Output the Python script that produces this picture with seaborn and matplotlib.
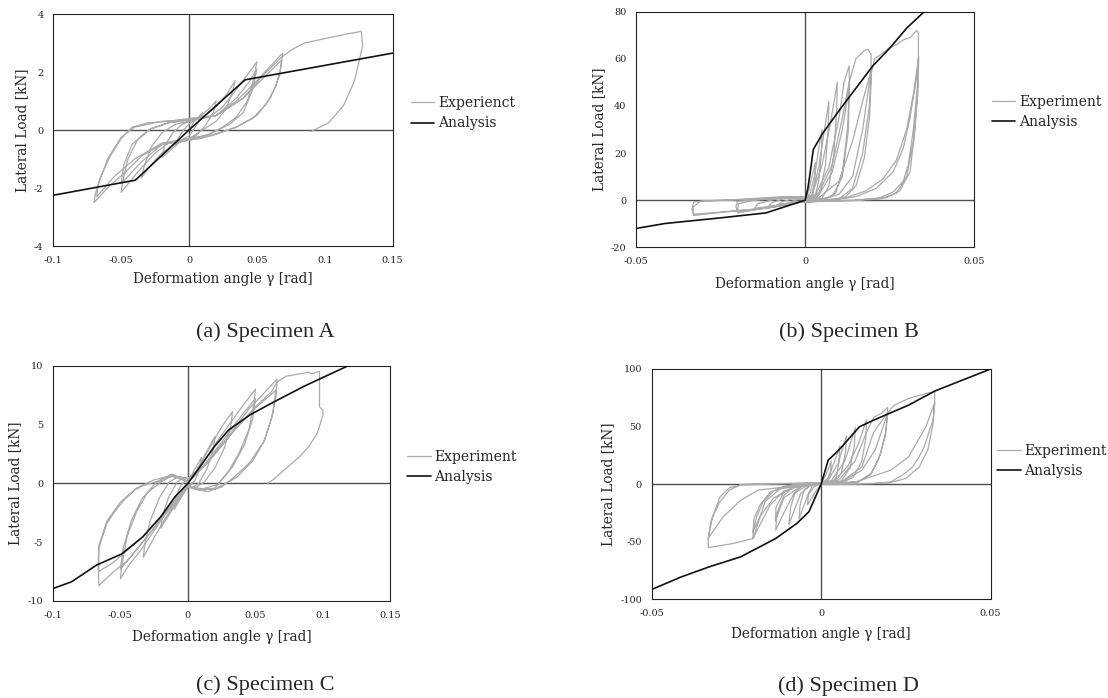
import matplotlib
matplotlib.use("Agg")
import seaborn as sns
import matplotlib.pyplot as plt

sns.set_theme(style="white")
plt.rcParams["font.family"] = ["DejaVu Serif"]
plt.rcParams["axes.unicode_minus"] = False

# ---------------- Specimen A ----------------
a_exp_gamma = [0, 0.004, 0.01, 0.008, 0.004, 0, -0.004, -0.01, -0.008, -0.004, 0,
               0.008, 0.015, 0.02, 0.018, 0.012, 0.005, 0, -0.008, -0.015, -0.02, -0.018, -0.012, -0.005, 0,
               0.01, 0.02, 0.028, 0.034, 0.032, 0.027, 0.02, 0.01, 0, -0.01, -0.02, -0.028, -0.035, -0.033, -0.028, -0.02, -0.01, 0,
               0.015, 0.025, 0.035, 0.043, 0.05, 0.048, 0.043, 0.035, 0.025, 0.012, 0, -0.015, -0.025, -0.035, -0.043, -0.05, -0.049, -0.045, -0.038, -0.028, -0.015, 0,
               0.02, 0.035, 0.045, 0.05, 0.047, 0.04, 0.03, 0.015, 0, -0.02, -0.035, -0.045, -0.05, -0.048, -0.042, -0.03, -0.015, 0,
               0.02, 0.035, 0.048, 0.058, 0.069, 0.068, 0.064, 0.057, 0.047, 0.035, 0.02, 0.008, 0, -0.02, -0.035, -0.048, -0.058, -0.07, -0.069, -0.065, -0.058, -0.05, -0.042, -0.03, -0.015, 0,
               0.02, 0.04, 0.055, 0.068, 0.067, 0.06, 0.05, 0.035, 0.015, 0, -0.02, -0.04, -0.055, -0.068, -0.067, -0.06, -0.05, -0.04, -0.02, 0,
               0.02, 0.04, 0.055, 0.068, 0.075, 0.085, 0.1, 0.115, 0.127, 0.128, 0.122, 0.114, 0.103, 0.09]
a_exp_load = [0, 0.3, 0.6, 0.35, 0.05, -0.2, -0.3, -0.55, -0.3, 0.0, 0.2,
              0.45, 0.75, 1.0, 0.6, 0.15, -0.2, -0.3, -0.45, -0.75, -0.95, -0.55, -0.1, 0.2, 0.3,
              0.45, 0.8, 1.25, 1.7, 1.3, 0.7, 0.3, 0.0, -0.3, -0.45, -0.8, -1.2, -1.65, -1.25, -0.6, -0.1, 0.2, 0.3,
              0.45, 0.8, 1.4, 1.9, 2.35, 1.8, 1.0, 0.45, 0.1, -0.2, -0.35, -0.45, -0.8, -1.3, -1.75, -2.15, -1.8, -1.0, -0.35, 0.05, 0.25, 0.35,
              0.5, 1.1, 1.7, 2.1, 1.4, 0.6, 0.2, -0.15, -0.3, -0.5, -1.1, -1.6, -1.85, -1.2, -0.5, 0.0, 0.25, 0.35,
              0.5, 1.0, 1.6, 2.1, 2.65, 2.2, 1.5, 0.9, 0.4, 0.1, -0.15, -0.3, -0.35, -0.5, -0.9, -1.5, -1.9, -2.5, -2.2, -1.6, -0.9, -0.3, 0.1, 0.25, 0.3, 0.4,
              0.5, 1.1, 1.8, 2.4, 1.9, 1.1, 0.5, 0.1, -0.2, -0.3, -0.45, -1.0, -1.6, -2.3, -1.9, -1.0, -0.25, 0.1, 0.3, 0.35,
              0.5, 1.1, 1.9, 2.5, 2.75, 3.0, 3.15, 3.3, 3.4, 2.9, 1.7, 0.85, 0.25, -0.05]
a_ana_gamma = [-0.1, -0.0395, 0, 0.0413, 0.15]
a_ana_load = [-2.25, -1.73, 0, 1.73, 2.65]

# ---------------- Specimen B ----------------
b_exp_gamma = [0, 0.001, 0.002, 0.003, 0.0028, 0.002, 0.001, 0, -0.003, -0.005, -0.004, -0.002, 0,
               0.0015, 0.003, 0.004, 0.005, 0.0048, 0.004, 0.003, 0.002, 0, -0.005, -0.008, -0.007, -0.004, 0,
               0.002, 0.004, 0.0055, 0.007, 0.0068, 0.006, 0.0045, 0.003, 0, -0.006, -0.011, -0.01, -0.006, 0,
               0.002, 0.005, 0.0075, 0.0095, 0.0093, 0.0085, 0.007, 0.005, 0.002, 0, -0.008, -0.015, -0.014, -0.008, 0,
               0.003, 0.007, 0.01, 0.0115, 0.013, 0.0131, 0.0125, 0.011, 0.009, 0.006, 0, -0.01, -0.02, -0.0205, -0.02, -0.012, -0.005, 0,
               0.004, 0.008, 0.011, 0.013, 0.0128, 0.011, 0.008, 0.004, 0, -0.01, -0.02, -0.0198, -0.015, -0.005, 0,
               0.004, 0.008, 0.011, 0.013, 0.015, 0.0175, 0.0185, 0.0195, 0.0195, 0.019, 0.0175, 0.015, 0.012, 0.008, 0,
               -0.01, -0.02, -0.027, -0.033, -0.0335, -0.033, -0.03, -0.02, -0.01, -0.005, 0,
               0.004, 0.01, 0.014, 0.017, 0.0195, 0.019, 0.017, 0.014, 0.01, 0, -0.015, -0.033, -0.0332, -0.031, -0.02, 0,
               0.005, 0.01, 0.014, 0.017, 0.019, 0.0205, 0.0235, 0.0246, 0.027, 0.029, 0.031, 0.033, 0.0335, 0.0335, 0.0333,
               0.032, 0.0305, 0.029, 0.026, 0.022, 0.015, 0.005, 0,
               0.005, 0.012, 0.018, 0.023, 0.027, 0.03, 0.032, 0.0335, 0.0333, 0.032, 0.03, 0.027, 0.022, 0.012, 0,
               0.008, 0.015, 0.021, 0.026, 0.029, 0.031, 0.033, 0.0336, 0.0334, 0.0325, 0.031, 0.028, 0.024, 0.015]
b_exp_load = [0, 4, 10, 16, 8, 1, 0, -0.5, -1.2, -1.5, -0.5, 0.3, 0.5,
              3, 12, 22, 30, 20, 8, 2, 0.3, -0.3, -1.2, -2.0, -0.8, 0.5, 0.8,
              2, 14, 28, 42, 30, 15, 4, 0.5, -0.3, -1.5, -2.8, -1.2, 0.8, 1.0,
              2, 15, 33, 50, 38, 20, 6, 1, 0, -0.5, -2.2, -3.5, -1.5, 0.8, 1.2,
              2, 14, 35, 50, 57, 49, 30, 12, 3, 0.5, -0.5, -3, -5.4, -2.5, -0.5, 0.5, 1.5, 1.2,
              2, 12, 30, 48, 30, 10, 1.5, 0, -0.5, -3, -4.8, -1.5, 0, 1, 1,
              3, 15, 35, 50, 60, 63.5, 64, 62, 50, 35, 18, 6, 1.5, 0, -0.5,
              -3.2, -4.5, -5.5, -6.5, -4, -0.8, -0.3, 0.3, 1.2, 1.6, 1.2,
              1, 8, 25, 42, 55, 40, 20, 5, 0.5, -0.5, -3.8, -6.0, -3, -0.5, 0.2, 1,
              0.5, 2.5, 10, 30, 50, 60, 63, 64.5, 66, 68, 69, 72, 71, 62, 50,
              30, 15, 8, 3.5, 1, 0, -0.5, -1,
              0, 1, 4, 9, 17, 30, 45, 60, 45, 25, 10, 3, 0.5, -0.3, -0.5,
              0, 1.5, 5, 12, 22, 35, 52, 61, 50, 30, 12, 4, 1, 0]
b_ana_gamma = [-0.05, -0.0415, -0.025, -0.0116, -0.0054, 0, 0.0008, 0.0015, 0.0024, 0.005, 0.01,
               0.015, 0.02, 0.025, 0.03, 0.0352]
b_ana_load = [-12, -9.9, -7.5, -5.4, -2.5, 0, 5, 12, 21.5, 28, 38, 47.5, 57, 64.5, 73, 80]

# ---------------- Specimen C ----------------
c_exp_gamma = [0, 0.005, 0.01, 0.009, 0.005, 0, -0.005, -0.01, -0.009, -0.005, 0,
               0.005, 0.012, 0.02, 0.019, 0.014, 0.008, 0.003, 0, -0.006, -0.013, -0.02, -0.019, -0.014, -0.008, -0.003, 0,
               0.006, 0.015, 0.025, 0.033, 0.032, 0.027, 0.02, 0.012, 0.005, 0, -0.008, -0.018, -0.026, -0.033, -0.032, -0.028, -0.021, -0.014, -0.007, 0,
               0.008, 0.02, 0.033, 0.042, 0.05, 0.049, 0.045, 0.038, 0.03, 0.02, 0.01, 0, -0.01, -0.022, -0.035, -0.044, -0.05, -0.049, -0.045, -0.038, -0.03, -0.02, -0.012, -0.005, 0,
               0.01, 0.025, 0.04, 0.05, 0.048, 0.042, 0.033, 0.022, 0.01, 0, -0.012, -0.028, -0.042, -0.05, -0.048, -0.042, -0.034, -0.024, -0.012, 0,
               0.012, 0.03, 0.045, 0.055, 0.066, 0.0655, 0.062, 0.056, 0.046, 0.035, 0.025, 0.015, 0.005, 0,
               -0.012, -0.03, -0.045, -0.056, -0.066, -0.0665, -0.066, -0.06, -0.053, -0.047, -0.04, -0.033, -0.022, -0.012, -0.006, 0,
               0.015, 0.035, 0.05, 0.065, 0.063, 0.057, 0.048, 0.036, 0.02, 0.005, 0,
               -0.015, -0.035, -0.055, -0.066, -0.066, -0.06, -0.05, -0.038, -0.025, -0.01, 0,
               0.015, 0.035, 0.05, 0.062, 0.066, 0.0725, 0.08, 0.0857, 0.089, 0.092, 0.0965, 0.0975, 0.0975, 0.1, 0.1,
               0.096, 0.09, 0.083, 0.072, 0.063, 0.059]
c_exp_load = [0, 1.2, 2.2, 1.3, 0.2, -0.3, -1.2, -2.2, -1.2, -0.1, 0.3,
              0.8, 2.3, 4.0, 3.0, 1.2, 0.0, -0.4, -0.3, -1.2, -2.5, -3.8, -2.8, -1.1, 0.1, 0.5, 0.4,
              1.0, 2.8, 4.8, 6.1, 5.0, 3.0, 1.3, 0.1, -0.4, -0.3, -1.4, -3.2, -4.8, -6.3, -5.2, -3.2, -1.2, 0.1, 0.6, 0.4,
              1.2, 3.3, 5.4, 6.8, 8.0, 6.8, 4.5, 2.6, 1.0, -0.4, -0.6, -0.3, -1.6, -3.5, -5.7, -7.0, -8.1, -7.0, -4.5, -2.4, -0.8, 0.1, 0.7, 0.4, 0.2,
              1.3, 3.5, 5.8, 7.2, 5.5, 3.3, 1.4, -0.1, -0.5, -0.2, -1.8, -4.2, -6.2, -7.3, -5.5, -3.2, -1.3, 0.0, 0.6, 0.2,
              1.5, 4.0, 6.3, 7.5, 8.85, 7.6, 5.5, 3.5, 1.8, 0.6, -0.3, -0.7, -0.5, -0.2,
              -1.9, -4.5, -6.6, -7.6, -8.7, -7.0, -5.5, -3.4, -2.2, -1.4, -0.6, -0.2, 0.2, 0.8, 0.4, 0.1,
              1.8, 4.6, 6.4, 7.9, 6.0, 3.7, 1.9, 0.5, -0.5, -0.4, -0.1,
              -2.2, -4.7, -6.7, -7.5, -5.3, -3.2, -1.6, -0.4, 0.3, 0.7, 0.1,
              1.8, 4.6, 6.5, 7.8, 8.6, 9.1, 9.25, 9.36, 9.45, 9.3, 9.5, 9.5, 6.5, 6.2, 5.8,
              4.3, 3.2, 2.3, 1.2, 0.3, 0.0]
c_ana_gamma = [-0.1, -0.0862, -0.0677, -0.0492, -0.0333, -0.0201, -0.0095, 0, 0.009, 0.0196,
               0.0302, 0.046, 0.0619, 0.0857, 0.0989, 0.1188]
c_ana_load = [-8.94, -8.37, -6.95, -6.01, -4.54, -2.84, -1.13, 0, 1.42, 3.12, 4.54, 5.82, 6.81, 8.23, 8.94, 10.0]

# ---------------- Specimen D ----------------
d_exp_gamma = [0, 0.002, 0.003, 0.0028, 0.002, 0, -0.002, -0.004, -0.0037, -0.0025, 0,
               0.002, 0.004, 0.0055, 0.0053, 0.0045, 0.003, 0, -0.002, -0.004, -0.0065, -0.0062, -0.005, -0.003, 0,
               0.002, 0.005, 0.0075, 0.0072, 0.006, 0.004, 0, -0.003, -0.006, -0.0095, -0.009, -0.0075, -0.005, 0,
               0.003, 0.007, 0.0101, 0.0098, 0.0085, 0.006, 0.003, 0, -0.004, -0.008, -0.011, -0.0134, -0.013, -0.011, -0.008, -0.004, 0,
               0.004, 0.008, 0.011, 0.0134, 0.0132, 0.012, 0.0095, 0.006, 0, -0.006, -0.011, -0.0135, -0.0133, -0.011, -0.007, 0,
               0.005, 0.01, 0.0134, 0.0155, 0.018, 0.0196, 0.0196, 0.019, 0.017, 0.0145, 0.011, 0.005, 0,
               -0.006, -0.011, -0.015, -0.018, -0.0201, -0.02, -0.019, -0.017, -0.014, -0.01, -0.005, 0,
               0.006, 0.012, 0.016, 0.0196, 0.019, 0.0175, 0.015, 0.011, 0.005, 0,
               -0.008, -0.014, -0.018, -0.0201, -0.0198, -0.018, -0.015, -0.011, -0.005, 0,
               0.006, 0.012, 0.0155, 0.0196, 0.0216, 0.0258, 0.0309, 0.0335, 0.0335, 0.033, 0.032, 0.0305, 0.0289, 0.027,
               0.0247, 0.0206, 0.0155, 0.008, 0,
               -0.006, -0.012, -0.0165, -0.0201, -0.0258, -0.0333, -0.0333, -0.032, -0.0298, -0.027, -0.0227, -0.015, 0,
               0.0103, 0.0206, 0.0258, 0.0309, 0.0335, 0.033, 0.0315, 0.029, 0.025, 0.02, 0.012, 0,
               -0.0103, -0.0186, -0.0237, -0.0289, -0.0333, -0.0325, -0.03, -0.027, -0.024, -0.018, 0]
d_exp_load = [0, 12, 20, 10, 2, 0, -8, -18, -8, -1, 0.5,
              5, 20, 33, 20, 6, 1, 0, -2, -10, -30, -18, -5, -0.5, 1,
              3, 18, 42, 28, 10, 1.5, 0.5, -1, -8, -35, -20, -6, -0.5, 1,
              3, 20, 49, 33, 14, 3, 0.5, 0.5, -1, -8, -25, -40, -25, -10, -2, 0.5, 1,
              3, 16, 35, 55.6, 40, 20, 6, 1, 0.5, -2, -12, -32, -20, -7, -1, 1,
              3, 20, 45, 57.9, 62, 66.6, 60, 42, 22, 8, 2, 0.5, 0,
              -1.5, -6, -18, -35, -47.2, -40, -28, -15, -6, -1.5, 0.2, 1,
              2, 12, 30, 61.4, 45, 26, 10, 2, 0.5, 0,
              -2.5, -12, -28, -41.4, -30, -18, -7, -2, 0.5, 1,
              2, 15, 45, 62, 68.6, 74.4, 78.7, 80.2, 70, 55, 46.9, 33, 23.7, 15,
              9.3, 2, 0.6, 0.3, 0,
              -1.5, -4, -15, -47.2, -51.5, -55, -47, -28, -11, -3, 0, 0.5, 1,
              2, 12.2, 23.7, 49.8, 70.6, 52, 30, 15, 5, 1, 0.3, 0,
              -2.3, -5.2, -13.9, -28.4, -47, -32, -16, -5, -1, 0, 1]
d_ana_gamma = [-0.05, -0.0412, -0.033, -0.0237, -0.0134, -0.0072, -0.0036, -0.0015, 0, 0.0021,
               0.0052, 0.0113, 0.0155, 0.0258, 0.0335, 0.05]
d_ana_load = [-91.5, -80.5, -71.8, -63.1, -47.2, -34.2, -24, -10, 0, 20.8, 29.5, 49.8, 55.6, 68.6, 80.8, 100]

# ticks
ab_x_ticks = [-0.1, -0.05, 0, 0.05, 0.1, 0.15]
ab_x_labels = ["-0.1", "-0.05", "0", "0.05", "0.1", "0.15"]
bd_x_ticks = [-0.05, 0, 0.05]
bd_x_labels = ["-0.05", "0", "0.05"]
a_y_ticks = [-4, -2, 0, 2, 4]
b_y_ticks = [-20, 0, 20, 40, 60, 80]
c_y_ticks = [-10, -5, 0, 5, 10]
d_y_ticks = [-100, -50, 0, 50, 100]

W, H = 1108, 698
fig = plt.figure(figsize=(W / 100, H / 100), dpi=100)


def px_rect(x0, y0, x1, y1):
    return [x0 / W, 1 - y1 / H, (x1 - x0) / W, (y1 - y0) / H]


def panel(rect, eg, el, ag, al, xlim, ylim, xt, xtl, yt, exp_name, leg_xy, ylab_x, xlab_y):
    ax = fig.add_axes(rect)
    ax.axhline(0, color="#505050", lw=1.0, zorder=1)
    ax.axvline(0, color="#505050", lw=1.0, zorder=1)
    sns.lineplot(x=eg, y=el, sort=False, estimator=None, color="#ababab", lw=0.9,
                 label=exp_name, ax=ax, zorder=2)
    sns.lineplot(x=ag, y=al, sort=False, estimator=None, color="#111111", lw=1.2,
                 label="Analysis", ax=ax, zorder=3)
    ax.set_xlim(*xlim)
    ax.set_ylim(*ylim)
    ax.set_xticks(xt)
    ax.set_xticklabels(xtl)
    ax.set_yticks(yt)
    ax.set_yticklabels([str(v) for v in yt])
    ax.tick_params(direction="in", length=3, width=0.8, labelsize=7, pad=7, color="#333333")
    for s in ax.spines.values():
        s.set_color("#222222")
        s.set_linewidth(0.8)
    ax.set_xlabel("Deformation angle γ [rad]", fontsize=9.8)
    ax.set_ylabel("Lateral Load [kN]", fontsize=9.8)
    ax.xaxis.set_label_coords(0.5, xlab_y)
    ax.yaxis.set_label_coords(ylab_x, 0.5)
    ax.legend(loc="center left", bbox_to_anchor=(leg_xy[0] / W, 1 - leg_xy[1] / H),
              bbox_transform=fig.transFigure, frameon=False, fontsize=10,
              handlelength=1.7, handletextpad=0.25, borderpad=0, borderaxespad=0,
              labelspacing=0.45)
    return ax


panel(px_rect(53.3, 14, 392.5, 246), a_exp_gamma, a_exp_load, a_ana_gamma, a_ana_load,
      (-0.1, 0.15), (-4, 4), ab_x_ticks, ab_x_labels, a_y_ticks, "Experienct",
      (410.7, 113.3), -0.072, -0.112)
panel(px_rect(636.2, 11.7, 974.2, 247.3), b_exp_gamma, b_exp_load, b_ana_gamma, b_ana_load,
      (-0.05, 0.05), (-20, 80), bd_x_ticks, bd_x_labels, b_y_ticks, "Experiment",
      (991.7, 111.7), -0.088, -0.126)
panel(px_rect(52.9, 365.7, 390.4, 601), c_exp_gamma, c_exp_load, c_ana_gamma, c_ana_load,
      (-0.1, 0.15), (-10, 10), ab_x_ticks, ab_x_labels, c_y_ticks, "Experiment",
      (407, 466.7), -0.09, -0.124)
panel(px_rect(651.6, 369, 990.6, 599.3), d_exp_gamma, d_exp_load, d_ana_gamma, d_ana_load,
      (-0.05, 0.05), (-100, 100), bd_x_ticks, bd_x_labels, d_y_ticks, "Experiment",
      (996.9, 460.8), -0.107, -0.12)

captions = ["(a) Specimen A", "(b) Specimen B", "(c) Specimen C", "(d) Specimen D"]
cap_pos = [(265, 332), (849, 332), (265, 685), (848, 686)]
for txt, (cx, cy) in zip(captions, cap_pos):
    fig.text(cx / W, 1 - cy / H, txt, ha="center", va="center",
             family="Liberation Serif", fontsize=16)

fig.savefig("out.png", dpi=100)
